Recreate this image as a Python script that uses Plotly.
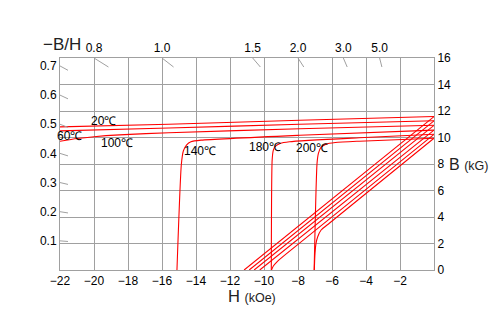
import plotly.graph_objects as go

# ---- data ----
h_ticks = [-22, -20, -18, -16, -14, -12, -10, -8, -6, -4, -2]
b_ticks = [0, 2, 4, 6, 8, 10, 12, 14, 16]
h_min, h_max = -22, 0
b_min, b_max = 0, 16

# permeance coefficient (-B/H) marks
p_left = [0.1, 0.2, 0.3, 0.4, 0.5, 0.6, 0.7]
p_top = [0.8, 1.0, 1.5, 2.0, 3.0, 5.0]

temps = ["20℃", "60℃", "100℃", "140℃", "180℃", "200℃"]

# intrinsic (J) curves, H in kOe, B in kG
j20_h = [-22, -15.6, -7.9, 0]
j20_b = [10.8, 11.0, 11.3, 11.58]
j60_h = [-22, -15.6, -7.9, 0]
j60_b = [10.5, 10.72, 11.0, 11.26]
j100_h = [-22, -21, -20, -18.5, -15.6, -7.9, 0]
j100_b = [9.72, 9.92, 10.06, 10.2, 10.36, 10.66, 10.92]
j140_h = [-15.12, -14.86, -14.74, -14.55, -14.3, -13.7, -7.9, 0]
j140_b = [0, 8.0, 9.0, 9.45, 9.68, 9.8, 10.17, 10.56]
j180_h = [-9.57, -9.52, -9.45, -9.32, -9.05, -8.5, -4.4, 0]
j180_b = [0, 8.3, 9.05, 9.35, 9.55, 9.68, 9.98, 10.24]
j200_h = [-7.05, -6.88, -6.80, -6.65, -6.35, -5.8, -4.4, 0]
j200_b = [0, 8.05, 8.8, 9.25, 9.5, 9.62, 9.72, 9.94]

# normal (B) curves
b20_h = [0, -11.17]
b20_b = [11.58, 0]
b60_h = [0, -10.87]
b60_b = [11.26, 0]
b100_h = [0, -10.58]
b100_b = [10.92, 0]
b140_h = [0, -10.25]
b140_b = [10.56, 0]
b180_h = [0, -8.8, -9.25, -9.45, -9.56]
b180_b = [10.24, 1.1, 0.6, 0.3, 0]
b200_h = [0, -6.14, -6.64, -6.84, -6.94, -7.0, -7.04]
b200_b = [9.94, 3.55, 3.02, 2.51, 2.01, 1.26, 0]

# label anchor positions (H, B)
label_h = [-19.43, -21.43, -18.66, -13.79, -9.96, -7.16]
label_b = [11.28, 10.15, 9.62, 8.96, 9.31, 9.22]

RED = "#ff0000"
GRID = "#a0a0a0"
FONT = "Liberation Sans"

fig = go.Figure()

curves = [
    (j20_h, j20_b), (j60_h, j60_b), (j100_h, j100_b),
    (j140_h, j140_b), (j180_h, j180_b), (j200_h, j200_b),
    (b20_h, b20_b), (b60_h, b60_b), (b100_h, b100_b),
    (b140_h, b140_b), (b180_h, b180_b), (b200_h, b200_b),
]
for hx, by in curves:
    fig.add_trace(go.Scatter(
        x=hx, y=by, mode="lines",
        line=dict(color=RED, width=1.1, shape="spline", smoothing=0.6),
        hoverinfo="skip", showlegend=False, cliponaxis=True,
    ))

# short slanted marks along the load lines (toward the origin)
dh_left = 0.47
db_top = 0.68
tx, ty = [], []
for p in p_left:
    tx += [h_min, h_min + dh_left, None]
    ty += [-h_min * p, -(h_min + dh_left) * p, None]
for p in p_top:
    tx += [-b_max / p, -(b_max - db_top) / p, None]
    ty += [b_max, b_max - db_top, None]
fig.add_trace(go.Scatter(
    x=tx, y=ty, mode="lines", line=dict(color=GRID, width=1),
    hoverinfo="skip", showlegend=False,
))

# dummy trace to activate secondary axes
fig.add_trace(go.Scatter(x=[h_min], y=[b_min], xaxis="x2", yaxis="y2",
                         mode="markers", marker=dict(opacity=0),
                         hoverinfo="skip", showlegend=False))

for t, lh, lb in zip(temps, label_h, label_b):
    fig.add_annotation(x=lh, y=lb, text=t, showarrow=False,
                       font=dict(family=FONT, size=12, color="#000"),
                       xanchor="center", yanchor="middle")

fig.add_annotation(xref="paper", yref="paper", x=0.005, y=1.066,
                   text="−B/H", showarrow=False,
                   font=dict(family=FONT, size=17, color="#222"),
                   xanchor="center", yanchor="middle")
fig.add_annotation(xref="paper", yref="paper", x=0.513, y=-0.122,
                   text="H <span style='font-size:12.5px'>(kOe)</span>",
                   showarrow=False,
                   font=dict(family=FONT, size=16.5, color="#222"),
                   xanchor="center", yanchor="middle")
fig.add_annotation(xref="paper", yref="paper", x=1.035, y=0.5,
                   text="B <span style='font-size:12.5px'>(kG)</span>",
                   showarrow=False,
                   font=dict(family=FONT, size=16, color="#222"),
                   xanchor="left", yanchor="middle")

fig.update_layout(
    width=501, height=329,
    margin=dict(l=60, r=67, t=58, b=59),
    paper_bgcolor="white", plot_bgcolor="white",
    font=dict(family=FONT, size=12, color="#000"),
    xaxis=dict(range=[h_min, h_max], tickvals=h_ticks, showgrid=True,
               gridcolor=GRID, gridwidth=1, showline=True, linecolor=GRID,
               linewidth=1, mirror=False, zeroline=False, ticks="",
               tickfont=dict(size=12)),
    yaxis=dict(range=[b_min, b_max], tickvals=b_ticks, side="right",
               showgrid=True, gridcolor=GRID, gridwidth=1, showline=True,
               linecolor=GRID, linewidth=1, zeroline=False, ticks="",
               tickfont=dict(size=12)),
    xaxis2=dict(range=[h_min, h_max], overlaying="x", side="top",
                tickvals=[-b_max / p for p in p_top],
                ticktext=[f"{p:.1f}" for p in p_top],
                showgrid=False, showline=True, linecolor=GRID, linewidth=1,
                zeroline=False, ticks="", tickfont=dict(size=12)),
    yaxis2=dict(range=[b_min, b_max], overlaying="y", side="left",
                tickvals=[-h_min * p for p in p_left],
                ticktext=[f"{p:.1f}" for p in p_left],
                showgrid=False, showline=True, linecolor=GRID, linewidth=1,
                zeroline=False, ticks="", tickfont=dict(size=12)),
)

fig.write_html("out.html")
